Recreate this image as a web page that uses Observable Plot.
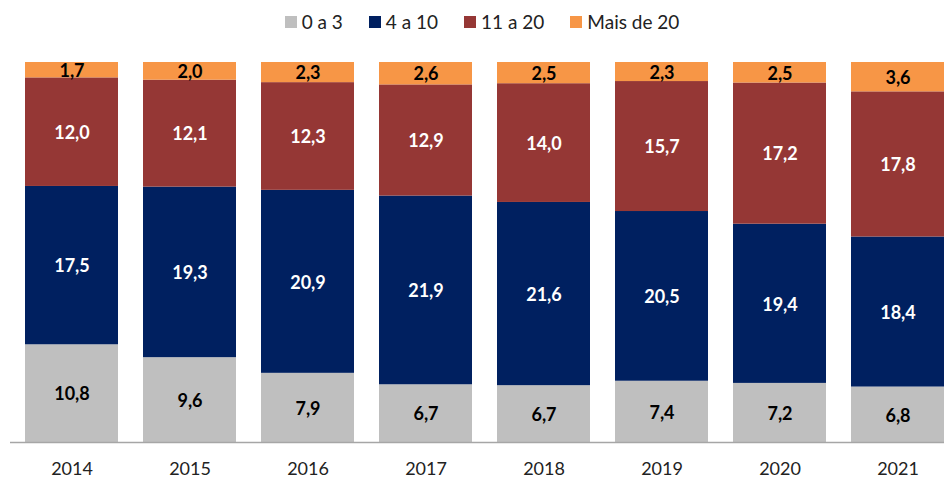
<!DOCTYPE html>
<html>
<head>
<meta charset="utf-8">
<script src="https://cdn.jsdelivr.net/npm/d3@7"></script>
<script src="https://cdn.jsdelivr.net/npm/@observablehq/plot@0.6"></script>
<style>
  body { margin: 0; background: #fff; font-family: Lato, "Open Sans", sans-serif; }
  #legend { height: 50px; box-sizing: border-box; padding-top: 2px; padding-left: 20px;
    display: flex; justify-content: center; align-items: flex-start; gap: 26px; font-size: 19px; color: #222; line-height: 40px; }
  #legend .item { display: flex; align-items: center; gap: 5px; }
  #legend .sw { width: 12px; height: 12px; display: inline-block; }
</style>
</head>
<body>
<div id="legend"></div>
<div id="chart"></div>
<script>
const years = ["2014", "2015", "2016", "2017", "2018", "2019", "2020", "2021"];
const seriesNames = ["0 a 3", "4 a 10", "11 a 20", "Mais de 20"];
const seriesColors = ["#BFBFBF", "#002060", "#953735", "#F79646"];
const labelColors = ["#000000", "#FFFFFF", "#FFFFFF", "#000000"];
const v0a3 = [10.8, 9.6, 7.9, 6.7, 6.7, 7.4, 7.2, 6.8];
const v4a10 = [17.5, 19.3, 20.9, 21.9, 21.6, 20.5, 19.4, 18.4];
const v11a20 = [12.0, 12.1, 12.3, 12.9, 14.0, 15.7, 17.2, 17.8];
const vMais20 = [1.7, 2.0, 2.3, 2.6, 2.5, 2.3, 2.5, 3.6];

const seriesValues = [v0a3, v4a10, v11a20, vMais20];
const data = [];
years.forEach((yr, i) => {
  seriesNames.forEach((s, j) => {
    data.push({year: yr, series: s, value: seriesValues[j][i], labelColor: labelColors[j]});
  });
});

const legend = document.getElementById("legend");
seriesNames.forEach((s, j) => {
  const it = document.createElement("div");
  it.className = "item";
  it.innerHTML = `<span class="sw" style="background:${seriesColors[j]}"></span><span>${s}</span>`;
  legend.appendChild(it);
});

const fmt = v => v.toFixed(1).replace(".", ",");

const chart = Plot.plot({
  width: 944,
  height: 429,
  marginTop: 12,
  marginBottom: 37,
  marginLeft: 10,
  marginRight: 0,
  style: {fontFamily: "Lato, 'Open Sans', sans-serif", background: "#fff"},
  x: {domain: years, range: [23, 946], paddingInner: 0.2157, paddingOuter: 0, label: null},
  y: {axis: null},
  color: {domain: seriesNames, range: seriesColors},
  marks: [
    Plot.barY(data, Plot.stackY({x: "year", y: "value", z: "series", fill: "series", offset: "normalize"})),
    Plot.text(data, Plot.stackY({x: "year", y: "value", z: "series", offset: "normalize",
      text: d => fmt(d.value), fill: "labelColor", fontWeight: "bold", fontSize: 18, dy: 1})),
    Plot.ruleY([0], {stroke: "#A6A6A6", strokeWidth: 1.5}),
    Plot.axisX({tickSize: 0, tickPadding: 20, fontSize: 18, color: "#222", label: null})
  ]
});
document.getElementById("chart").appendChild(chart);
</script>
</body>
</html>
